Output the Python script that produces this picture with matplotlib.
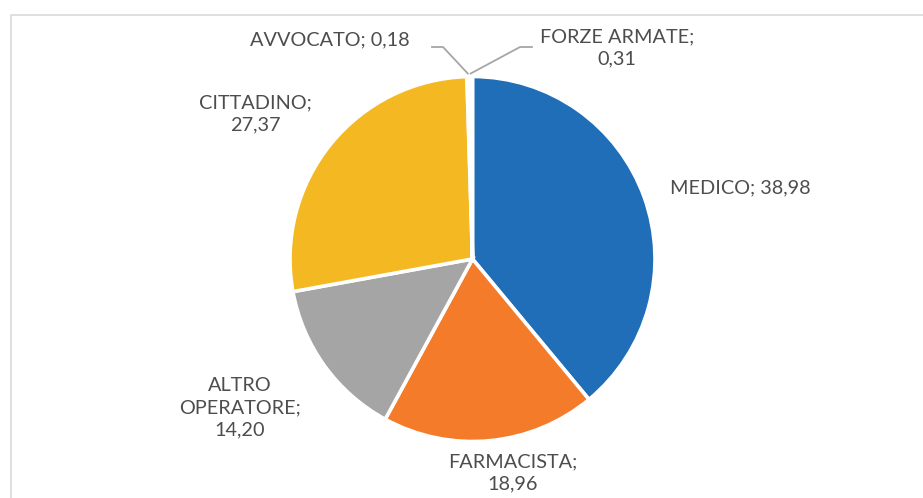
import numpy as np
import matplotlib
matplotlib.use("Agg")
import matplotlib.pyplot as plt

# dati
categorie = ["MEDICO", "FARMACISTA", "ALTRO\nOPERATORE", "CITTADINO", "AVVOCATO", "FORZE ARMATE"]
valori = [38.98, 18.96, 14.20, 27.37, 0.18, 0.31]
colori = ["#1F6EB7", "#F47B2A", "#A5A5A5", "#F4B823", "#4472C4", "#70AD47"]

W, H = 923, 498
fig = plt.figure(figsize=(W / 100, H / 100), dpi=100)
ax = fig.add_axes([0, 0, 1, 1])

# cornice del grafico
ax.plot([10.5, 10.5, W], [0, H - 14.5, H - 14.5], color="#D9D9D9", lw=1.2, solid_capstyle="butt")

cx, cy, r = 472.5, H - 259, 182.5
ax.pie(valori, colors=colori, startangle=90, counterclock=False,
       center=(cx, cy), radius=r, frame=True,
       wedgeprops=dict(edgecolor="white", linewidth=2.6))
ax.set_xlim(0, W)
ax.set_ylim(0, H)
ax.set_aspect("equal")
ax.axis("off")

# etichette "NOME; valore"
testi = []
for c, v in zip(categorie, valori):
    s = f"{v:.2f}".replace(".", ",")
    if c in ("MEDICO", "AVVOCATO"):
        testi.append(f"{c}; {s}")
    else:
        testi.append(f"{c};\n{s}")

# posizioni (pixel) dei centri delle etichette
pos = [(740, 188), (513, 473), (240, 408), (255, 114), (330, 40), (617, 48)]

txt_kw = dict(ha="center", va="center", fontsize=14.3, color="#4D4D4D",
              family="Lato", linespacing=1.38)
for t, (px, py) in zip(testi, pos):
    ax.text(px, H - py, t, **txt_kw)

# linee guida per le fette piccole
cum = np.cumsum(valori) / sum(valori)
mid = cum - np.array(valori) / sum(valori) / 2
guide = {4: [(443, 47), (432, 47)], 5: [(520, 47), (532, 47)]}
for i, punti in guide.items():
    th = 2 * np.pi * mid[i]
    ex = cx + (r + 3) * np.sin(th)
    ey = cy + (r + 3) * np.cos(th)
    xs = [ex] + [p[0] for p in punti]
    ys = [ey] + [H - p[1] for p in punti]
    ax.plot(xs, ys, color="#A6A6A6", lw=1.3)

fig.savefig("out.png", dpi=100)
